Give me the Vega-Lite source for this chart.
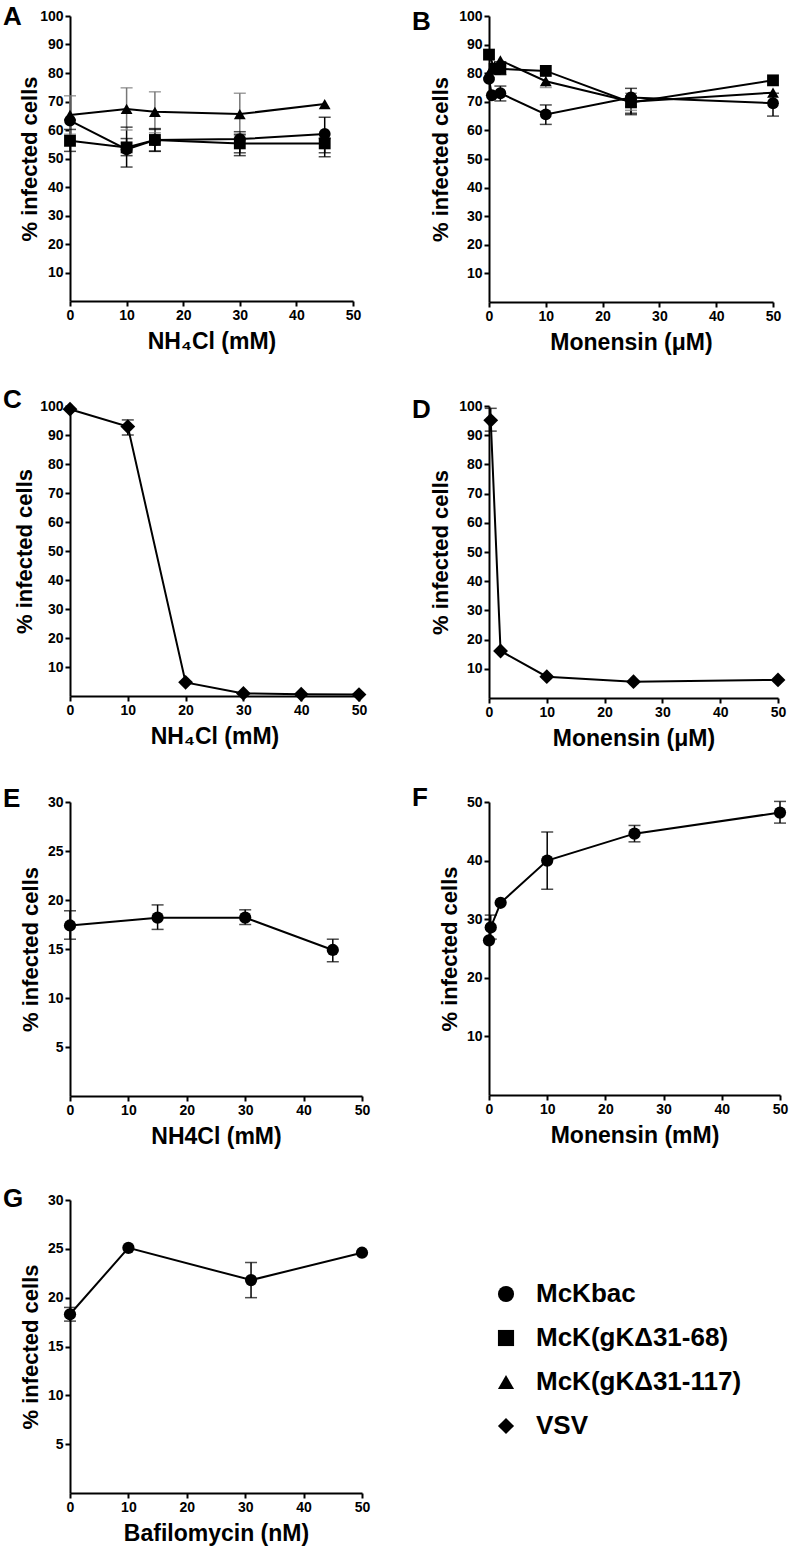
{
  "$schema": "https://vega.github.io/schema/vega-lite/v6.json",
  "background": "white",
  "autosize": {"type": "pad"},
  "padding": {"left": 3, "top": 4, "right": 5, "bottom": 5},
  "config": {
    "font": "Liberation Sans",
    "view": {"stroke": null},
    "axis": {"grid": false, "domainColor": "black", "domainWidth": 2, "tickColor": "black", "tickWidth": 2, "tickSize": 5, "tickCount": 20, "labelFont": "Liberation Sans", "labelFontSize": 14, "labelFontWeight": "bold", "labelColor": "black", "labelPadding": 2, "labelOverlap": false, "titleFont": "Liberation Sans", "titleFontWeight": "bold", "titleColor": "black"},
    "axisX": {"titleFontSize": 23, "titlePadding": 8, "labelFlush": false},
    "axisY": {"titleFontSize": 22, "titlePadding": 5},
    "title": {"font": "Liberation Sans", "fontSize": 26, "fontWeight": "bold", "color": "black", "anchor": "start", "frame": "group", "baseline": "alphabetic", "offset": 0},
    "legend": {"orient": "none", "legendX": 423, "legendY": 1265, "labelFont": "Liberation Sans", "labelFontSize": 26, "labelFontWeight": "bold", "labelColor": "black", "labelLimit": 0, "symbolSize": 260, "symbolFillColor": "black", "symbolStrokeColor": "black", "symbolStrokeWidth": 0, "rowPadding": 18, "labelOffset": 17, "padding": 0}
  },
  "datasets": {
    "A": [
      {"series": "McKbac", "x": 0, "y": 63.3},
      {"series": "McKbac", "x": 10, "y": 53.2, "lo": 47, "hi": 61},
      {"series": "McKbac", "x": 15, "y": 56.5, "lo": 52.6, "hi": 60.2},
      {"series": "McKbac", "x": 30, "y": 56.8, "lo": 51, "hi": 59.4},
      {"series": "McKbac", "x": 45, "y": 58.6, "lo": 52, "hi": 64.5},
      {"series": "McK(gKΔ31-68)", "x": 0, "y": 56.2, "lo": 52.5, "hi": 60.2},
      {"series": "McK(gKΔ31-68)", "x": 10, "y": 53.9, "lo": 51, "hi": 57},
      {"series": "McK(gKΔ31-68)", "x": 15, "y": 56.5, "lo": 52.5, "hi": 60.5},
      {"series": "McK(gKΔ31-68)", "x": 30, "y": 55.3, "lo": 52, "hi": 58.5},
      {"series": "McK(gKΔ31-68)", "x": 45, "y": 55.3, "lo": 50.6, "hi": 57},
      {"series": "McK(gKΔ31-117)", "x": 0, "y": 65.3, "lo": 58.5, "hi": 72},
      {"series": "McK(gKΔ31-117)", "x": 10, "y": 67.4, "lo": 60, "hi": 74.8},
      {"series": "McK(gKΔ31-117)", "x": 15, "y": 66.4, "lo": 59, "hi": 73.4},
      {"series": "McK(gKΔ31-117)", "x": 30, "y": 65.6, "lo": 58, "hi": 72.9},
      {"series": "McK(gKΔ31-117)", "x": 45, "y": 69.1}
    ],
    "B": [
      {"series": "McKbac", "x": 0, "y": 78},
      {"series": "McKbac", "x": 0.5, "y": 72.3},
      {"series": "McKbac", "x": 2, "y": 73, "lo": 70.3, "hi": 75.5},
      {"series": "McKbac", "x": 10, "y": 65.6, "lo": 62.1, "hi": 68.9},
      {"series": "McKbac", "x": 25, "y": 71.5, "lo": 65.5, "hi": 74.7},
      {"series": "McKbac", "x": 50, "y": 69.5, "lo": 65, "hi": 73},
      {"series": "McK(gKΔ31-68)", "x": 0, "y": 86.5},
      {"series": "McK(gKΔ31-68)", "x": 1, "y": 81.5},
      {"series": "McK(gKΔ31-68)", "x": 2, "y": 81.5, "lo": 79.5, "hi": 84},
      {"series": "McK(gKΔ31-68)", "x": 10, "y": 80.8},
      {"series": "McK(gKΔ31-68)", "x": 25, "y": 69.8, "lo": 66, "hi": 72},
      {"series": "McK(gKΔ31-68)", "x": 50, "y": 77.5},
      {"series": "McK(gKΔ31-117)", "x": 0, "y": 80},
      {"series": "McK(gKΔ31-117)", "x": 1, "y": 82.5},
      {"series": "McK(gKΔ31-117)", "x": 2, "y": 84.5},
      {"series": "McK(gKΔ31-117)", "x": 10, "y": 77.2, "lo": 75, "hi": 80},
      {"series": "McK(gKΔ31-117)", "x": 25, "y": 70, "lo": 67, "hi": 73},
      {"series": "McK(gKΔ31-117)", "x": 50, "y": 73.2}
    ],
    "C": [
      {"series": "VSV", "x": 0, "y": 98.9},
      {"series": "VSV", "x": 10, "y": 92.9, "lo": 90, "hi": 95.2},
      {"series": "VSV", "x": 20, "y": 4.7},
      {"series": "VSV", "x": 30, "y": 0.9},
      {"series": "VSV", "x": 40, "y": 0.6},
      {"series": "VSV", "x": 50, "y": 0.5}
    ],
    "D": [
      {"series": "VSV", "x": 0.3, "y": 95.1, "lo": 91.4, "hi": 99.2},
      {"series": "VSV", "x": 2, "y": 16.1},
      {"series": "VSV", "x": 10, "y": 7.3},
      {"series": "VSV", "x": 25, "y": 5.6},
      {"series": "VSV", "x": 50, "y": 6.2}
    ],
    "E": [
      {"series": "McKbac", "x": 0, "y": 17.4, "lo": 16, "hi": 18.9},
      {"series": "McKbac", "x": 15, "y": 18.2, "lo": 17, "hi": 19.5},
      {"series": "McKbac", "x": 30, "y": 18.2, "lo": 17.5, "hi": 19},
      {"series": "McKbac", "x": 45, "y": 14.9, "lo": 13.7, "hi": 16}
    ],
    "F": [
      {"series": "McKbac", "x": 0, "y": 26.4},
      {"series": "McKbac", "x": 0.3, "y": 28.6, "lo": 26.6, "hi": 30.7},
      {"series": "McKbac", "x": 2, "y": 32.8},
      {"series": "McKbac", "x": 10, "y": 40, "lo": 35.1, "hi": 44.9},
      {"series": "McKbac", "x": 25, "y": 44.6, "lo": 43.2, "hi": 46},
      {"series": "McKbac", "x": 50, "y": 48.2, "lo": 46.4, "hi": 50.1}
    ],
    "G": [
      {"series": "McKbac", "x": 0, "y": 18.3, "lo": 17.6, "hi": 19},
      {"series": "McKbac", "x": 10, "y": 25.1},
      {"series": "McKbac", "x": 31, "y": 21.8, "lo": 20, "hi": 23.6},
      {"series": "McKbac", "x": 50, "y": 24.6}
    ]
  },
  "columns": 2,
  "bounds": "flush",
  "spacing": {"row": 104, "column": 127},
  "concat": [
    {
      "width": 283, "height": 285,
      "title": {"text": "A", "dx": -67, "dy": 25},
      "data": {"name": "A"},
      "layer": [
        {"mark": {"type": "line", "color": "black", "strokeWidth": 2}, "encoding": {"x": {"field": "x", "type": "quantitative", "scale": {"domain": [0, 50], "nice": false}, "axis": {"values": [0, 10, 20, 30, 40, 50], "tickCount": 20, "labelOverlap": false, "title": "NH₄Cl (mM)"}}, "y": {"field": "y", "type": "quantitative", "scale": {"domain": [0, 100], "nice": false}, "axis": {"values": [10, 20, 30, 40, 50, 60, 70, 80, 90, 100], "tickCount": 20, "labelOverlap": false, "title": "% infected cells", "titlePadding": -2}}, "detail": {"field": "series"}}},
        {"transform": [{"filter": "isValid(datum.lo)"}], "mark": {"type": "rule", "strokeWidth": 1.5}, "encoding": {"x": {"field": "x", "type": "quantitative"}, "y": {"field": "lo", "type": "quantitative", "title": "% infected cells"}, "y2": {"field": "hi"}, "color": {"condition": {"test": "datum.series === 'McK(gKΔ31-117)'", "value": "#777777"}, "value": "black"}}},
        {"transform": [{"filter": "isValid(datum.lo)"}], "mark": {"type": "tick", "orient": "horizontal", "size": 12, "thickness": 1.5}, "encoding": {"x": {"field": "x", "type": "quantitative"}, "y": {"field": "lo", "type": "quantitative", "title": "% infected cells"}, "color": {"condition": {"test": "datum.series === 'McK(gKΔ31-117)'", "value": "#777777"}, "value": "black"}}},
        {"transform": [{"filter": "isValid(datum.hi)"}], "mark": {"type": "tick", "orient": "horizontal", "size": 12, "thickness": 1.5}, "encoding": {"x": {"field": "x", "type": "quantitative"}, "y": {"field": "hi", "type": "quantitative", "title": "% infected cells"}, "color": {"condition": {"test": "datum.series === 'McK(gKΔ31-117)'", "value": "#777777"}, "value": "black"}}},
        {"mark": {"type": "point", "filled": true, "size": 140, "color": "black", "opacity": 1}, "encoding": {"x": {"field": "x", "type": "quantitative"}, "y": {"field": "y", "type": "quantitative", "title": "% infected cells"}, "shape": {"field": "series", "type": "nominal", "scale": {"domain": ["McKbac", "McK(gKΔ31-68)", "McK(gKΔ31-117)", "VSV"], "range": ["circle", "square", "triangle-up", "diamond"]}, "legend": {"title": null}}}}
      ]
    },
    {
      "width": 284, "height": 286,
      "title": {"text": "B", "dx": -77, "dy": 30},
      "data": {"name": "B"},
      "layer": [
        {"mark": {"type": "line", "color": "black", "strokeWidth": 2}, "encoding": {"x": {"field": "x", "type": "quantitative", "scale": {"domain": [0, 50], "nice": false}, "axis": {"values": [0, 10, 20, 30, 40, 50], "tickCount": 20, "labelOverlap": false, "title": "Monensin (μM)"}}, "y": {"field": "y", "type": "quantitative", "scale": {"domain": [0, 100], "nice": false}, "axis": {"values": [10, 20, 30, 40, 50, 60, 70, 80, 90, 100], "tickCount": 20, "labelOverlap": false, "title": "% infected cells", "titlePadding": 6}}, "detail": {"field": "series"}}},
        {"transform": [{"filter": "isValid(datum.lo)"}], "mark": {"type": "rule", "strokeWidth": 1.5}, "encoding": {"x": {"field": "x", "type": "quantitative"}, "y": {"field": "lo", "type": "quantitative", "title": "% infected cells"}, "y2": {"field": "hi"}, "color": {"condition": {"test": "datum.series === 'McK(gKΔ31-117)'", "value": "#777777"}, "value": "black"}}},
        {"transform": [{"filter": "isValid(datum.lo)"}], "mark": {"type": "tick", "orient": "horizontal", "size": 12, "thickness": 1.5}, "encoding": {"x": {"field": "x", "type": "quantitative"}, "y": {"field": "lo", "type": "quantitative", "title": "% infected cells"}, "color": {"condition": {"test": "datum.series === 'McK(gKΔ31-117)'", "value": "#777777"}, "value": "black"}}},
        {"transform": [{"filter": "isValid(datum.hi)"}], "mark": {"type": "tick", "orient": "horizontal", "size": 12, "thickness": 1.5}, "encoding": {"x": {"field": "x", "type": "quantitative"}, "y": {"field": "hi", "type": "quantitative", "title": "% infected cells"}, "color": {"condition": {"test": "datum.series === 'McK(gKΔ31-117)'", "value": "#777777"}, "value": "black"}}},
        {"mark": {"type": "point", "filled": true, "size": 140, "color": "black", "opacity": 1}, "encoding": {"x": {"field": "x", "type": "quantitative"}, "y": {"field": "y", "type": "quantitative", "title": "% infected cells"}, "shape": {"field": "series", "type": "nominal", "scale": {"domain": ["McKbac", "McK(gKΔ31-68)", "McK(gKΔ31-117)", "VSV"], "range": ["circle", "square", "triangle-up", "diamond"]}, "legend": {"title": null}}}}
      ]
    },
    {
      "width": 289, "height": 290,
      "title": {"text": "C", "dx": -67, "dy": 18},
      "data": {"name": "C"},
      "layer": [
        {"mark": {"type": "line", "color": "black", "strokeWidth": 2}, "encoding": {"x": {"field": "x", "type": "quantitative", "scale": {"domain": [0, 50], "nice": false}, "axis": {"values": [0, 10, 20, 30, 40, 50], "tickCount": 20, "labelOverlap": false, "title": "NH₄Cl (mM)"}}, "y": {"field": "y", "type": "quantitative", "scale": {"domain": [0, 100], "nice": false}, "axis": {"values": [10, 20, 30, 40, 50, 60, 70, 80, 90, 100], "tickCount": 20, "labelOverlap": false, "title": "% infected cells", "titlePadding": 3}}, "detail": {"field": "series"}}},
        {"transform": [{"filter": "isValid(datum.lo)"}], "mark": {"type": "rule", "strokeWidth": 1.5, "color": "black"}, "encoding": {"x": {"field": "x", "type": "quantitative"}, "y": {"field": "lo", "type": "quantitative", "title": "% infected cells"}, "y2": {"field": "hi"}}},
        {"transform": [{"filter": "isValid(datum.lo)"}], "mark": {"type": "tick", "orient": "horizontal", "size": 12, "thickness": 1.5, "color": "black"}, "encoding": {"x": {"field": "x", "type": "quantitative"}, "y": {"field": "lo", "type": "quantitative", "title": "% infected cells"}}},
        {"transform": [{"filter": "isValid(datum.hi)"}], "mark": {"type": "tick", "orient": "horizontal", "size": 12, "thickness": 1.5, "color": "black"}, "encoding": {"x": {"field": "x", "type": "quantitative"}, "y": {"field": "hi", "type": "quantitative", "title": "% infected cells"}}},
        {"mark": {"type": "point", "filled": true, "size": 220, "color": "black", "opacity": 1}, "encoding": {"x": {"field": "x", "type": "quantitative"}, "y": {"field": "y", "type": "quantitative", "title": "% infected cells"}, "shape": {"field": "series", "type": "nominal", "scale": {"domain": ["McKbac", "McK(gKΔ31-68)", "McK(gKΔ31-117)", "VSV"], "range": ["circle", "square", "triangle-up", "diamond"]}, "legend": {"title": null}}}}
      ]
    },
    {
      "width": 289, "height": 292,
      "title": {"text": "D", "dx": -77, "dy": 28},
      "data": {"name": "D"},
      "layer": [
        {"mark": {"type": "line", "color": "black", "strokeWidth": 2}, "encoding": {"x": {"field": "x", "type": "quantitative", "scale": {"domain": [0, 50], "nice": false}, "axis": {"values": [0, 10, 20, 30, 40, 50], "tickCount": 20, "labelOverlap": false, "title": "Monensin (μM)"}}, "y": {"field": "y", "type": "quantitative", "scale": {"domain": [0, 100], "nice": false}, "axis": {"values": [10, 20, 30, 40, 50, 60, 70, 80, 90, 100], "tickCount": 20, "labelOverlap": false, "title": "% infected cells", "titlePadding": 6}}, "detail": {"field": "series"}}},
        {"transform": [{"filter": "isValid(datum.lo)"}], "mark": {"type": "rule", "strokeWidth": 1.5, "color": "black"}, "encoding": {"x": {"field": "x", "type": "quantitative"}, "y": {"field": "lo", "type": "quantitative", "title": "% infected cells"}, "y2": {"field": "hi"}}},
        {"transform": [{"filter": "isValid(datum.lo)"}], "mark": {"type": "tick", "orient": "horizontal", "size": 12, "thickness": 1.5, "color": "black"}, "encoding": {"x": {"field": "x", "type": "quantitative"}, "y": {"field": "lo", "type": "quantitative", "title": "% infected cells"}}},
        {"transform": [{"filter": "isValid(datum.hi)"}], "mark": {"type": "tick", "orient": "horizontal", "size": 12, "thickness": 1.5, "color": "black"}, "encoding": {"x": {"field": "x", "type": "quantitative"}, "y": {"field": "hi", "type": "quantitative", "title": "% infected cells"}}},
        {"mark": {"type": "point", "filled": true, "size": 220, "color": "black", "opacity": 1}, "encoding": {"x": {"field": "x", "type": "quantitative"}, "y": {"field": "y", "type": "quantitative", "title": "% infected cells"}, "shape": {"field": "series", "type": "nominal", "scale": {"domain": ["McKbac", "McK(gKΔ31-68)", "McK(gKΔ31-117)", "VSV"], "range": ["circle", "square", "triangle-up", "diamond"]}, "legend": {"title": null}}}}
      ]
    },
    {
      "width": 292, "height": 294,
      "title": {"text": "E", "dx": -67, "dy": 21},
      "data": {"name": "E"},
      "layer": [
        {"mark": {"type": "line", "color": "black", "strokeWidth": 2}, "encoding": {"x": {"field": "x", "type": "quantitative", "scale": {"domain": [0, 50], "nice": false}, "axis": {"values": [0, 10, 20, 30, 40, 50], "tickCount": 20, "labelOverlap": false, "title": "NH4Cl (mM)"}}, "y": {"field": "y", "type": "quantitative", "scale": {"domain": [0, 30], "nice": false}, "axis": {"values": [5, 10, 15, 20, 25, 30], "tickCount": 20, "labelOverlap": false, "title": "% infected cells", "titlePadding": 5}}, "detail": {"field": "series"}}},
        {"transform": [{"filter": "isValid(datum.lo)"}], "mark": {"type": "rule", "strokeWidth": 1.5, "color": "black"}, "encoding": {"x": {"field": "x", "type": "quantitative"}, "y": {"field": "lo", "type": "quantitative", "title": "% infected cells"}, "y2": {"field": "hi"}}},
        {"transform": [{"filter": "isValid(datum.lo)"}], "mark": {"type": "tick", "orient": "horizontal", "size": 12, "thickness": 1.5, "color": "black"}, "encoding": {"x": {"field": "x", "type": "quantitative"}, "y": {"field": "lo", "type": "quantitative", "title": "% infected cells"}}},
        {"transform": [{"filter": "isValid(datum.hi)"}], "mark": {"type": "tick", "orient": "horizontal", "size": 12, "thickness": 1.5, "color": "black"}, "encoding": {"x": {"field": "x", "type": "quantitative"}, "y": {"field": "hi", "type": "quantitative", "title": "% infected cells"}}},
        {"mark": {"type": "point", "filled": true, "size": 150, "color": "black", "opacity": 1}, "encoding": {"x": {"field": "x", "type": "quantitative"}, "y": {"field": "y", "type": "quantitative", "title": "% infected cells"}, "shape": {"field": "series", "type": "nominal", "scale": {"domain": ["McKbac", "McK(gKΔ31-68)", "McK(gKΔ31-117)", "VSV"], "range": ["circle", "square", "triangle-up", "diamond"]}, "legend": {"title": null}}}}
      ]
    },
    {
      "width": 291, "height": 293,
      "title": {"text": "F", "dx": -77, "dy": 20},
      "data": {"name": "F"},
      "layer": [
        {"mark": {"type": "line", "color": "black", "strokeWidth": 2}, "encoding": {"x": {"field": "x", "type": "quantitative", "scale": {"domain": [0, 50], "nice": false}, "axis": {"values": [0, 10, 20, 30, 40, 50], "tickCount": 20, "labelOverlap": false, "title": "Monensin (mM)"}}, "y": {"field": "y", "type": "quantitative", "scale": {"domain": [0, 50], "nice": false}, "axis": {"values": [10, 20, 30, 40, 50], "tickCount": 20, "labelOverlap": false, "title": "% infected cells", "titlePadding": 5}}, "detail": {"field": "series"}}},
        {"transform": [{"filter": "isValid(datum.lo)"}], "mark": {"type": "rule", "strokeWidth": 1.5, "color": "black"}, "encoding": {"x": {"field": "x", "type": "quantitative"}, "y": {"field": "lo", "type": "quantitative", "title": "% infected cells"}, "y2": {"field": "hi"}}},
        {"transform": [{"filter": "isValid(datum.lo)"}], "mark": {"type": "tick", "orient": "horizontal", "size": 12, "thickness": 1.5, "color": "black"}, "encoding": {"x": {"field": "x", "type": "quantitative"}, "y": {"field": "lo", "type": "quantitative", "title": "% infected cells"}}},
        {"transform": [{"filter": "isValid(datum.hi)"}], "mark": {"type": "tick", "orient": "horizontal", "size": 12, "thickness": 1.5, "color": "black"}, "encoding": {"x": {"field": "x", "type": "quantitative"}, "y": {"field": "hi", "type": "quantitative", "title": "% infected cells"}}},
        {"mark": {"type": "point", "filled": true, "size": 150, "color": "black", "opacity": 1}, "encoding": {"x": {"field": "x", "type": "quantitative"}, "y": {"field": "y", "type": "quantitative", "title": "% infected cells"}, "shape": {"field": "series", "type": "nominal", "scale": {"domain": ["McKbac", "McK(gKΔ31-68)", "McK(gKΔ31-117)", "VSV"], "range": ["circle", "square", "triangle-up", "diamond"]}, "legend": {"title": null}}}}
      ]
    },
    {
      "width": 292, "height": 293,
      "title": {"text": "G", "dx": -67, "dy": 23},
      "data": {"name": "G"},
      "layer": [
        {"mark": {"type": "line", "color": "black", "strokeWidth": 2}, "encoding": {"x": {"field": "x", "type": "quantitative", "scale": {"domain": [0, 50], "nice": false}, "axis": {"values": [0, 10, 20, 30, 40, 50], "tickCount": 20, "labelOverlap": false, "title": "Bafilomycin (nM)"}}, "y": {"field": "y", "type": "quantitative", "scale": {"domain": [0, 30], "nice": false}, "axis": {"values": [5, 10, 15, 20, 25, 30], "tickCount": 20, "labelOverlap": false, "title": "% infected cells", "titlePadding": 5}}, "detail": {"field": "series"}}},
        {"transform": [{"filter": "isValid(datum.lo)"}], "mark": {"type": "rule", "strokeWidth": 1.5, "color": "black"}, "encoding": {"x": {"field": "x", "type": "quantitative"}, "y": {"field": "lo", "type": "quantitative", "title": "% infected cells"}, "y2": {"field": "hi"}}},
        {"transform": [{"filter": "isValid(datum.lo)"}], "mark": {"type": "tick", "orient": "horizontal", "size": 12, "thickness": 1.5, "color": "black"}, "encoding": {"x": {"field": "x", "type": "quantitative"}, "y": {"field": "lo", "type": "quantitative", "title": "% infected cells"}}},
        {"transform": [{"filter": "isValid(datum.hi)"}], "mark": {"type": "tick", "orient": "horizontal", "size": 12, "thickness": 1.5, "color": "black"}, "encoding": {"x": {"field": "x", "type": "quantitative"}, "y": {"field": "hi", "type": "quantitative", "title": "% infected cells"}}},
        {"mark": {"type": "point", "filled": true, "size": 150, "color": "black", "opacity": 1}, "encoding": {"x": {"field": "x", "type": "quantitative"}, "y": {"field": "y", "type": "quantitative", "title": "% infected cells"}, "shape": {"field": "series", "type": "nominal", "scale": {"domain": ["McKbac", "McK(gKΔ31-68)", "McK(gKΔ31-117)", "VSV"], "range": ["circle", "square", "triangle-up", "diamond"]}, "legend": {"title": null}}}}
      ]
    }
  ],
  "resolve": {"scale": {"shape": "shared"}, "legend": {"shape": "shared"}}
}
